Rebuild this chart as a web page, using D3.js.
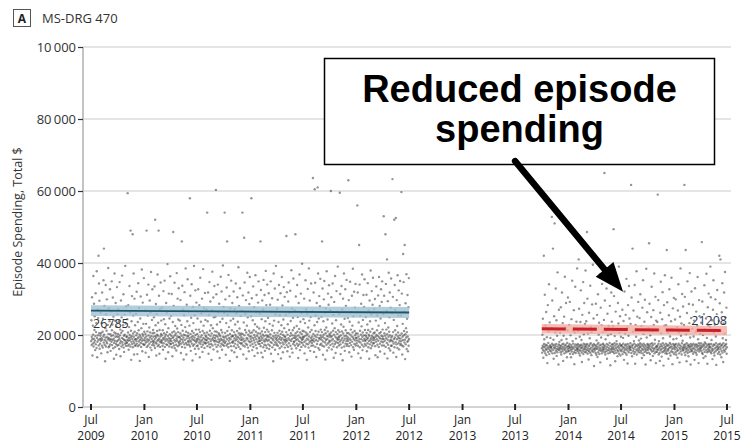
<!DOCTYPE html>
<html>
<head>
<meta charset="utf-8">
<script src="https://cdn.jsdelivr.net/npm/d3@7"></script>
<style>
  html, body { margin: 0; padding: 0; background: #fff; }
  svg { display: block; font-family: "Open Sans", "Noto Sans", sans-serif; }
</style>
</head>
<body>
<svg id="chart" width="742" height="444"></svg>
<script>
// ---- Data -----------------------------------------------------------------
// Episode spending per episode, grouped by month of admission, in $100 units.
const preMonths = ["2009-07","2009-08","2009-09","2009-10","2009-11","2009-12",
  "2010-01","2010-02","2010-03","2010-04","2010-05","2010-06","2010-07","2010-08","2010-09","2010-10","2010-11","2010-12",
  "2011-01","2011-02","2011-03","2011-04","2011-05","2011-06","2011-07","2011-08","2011-09","2011-10","2011-11","2011-12",
  "2012-01","2012-02","2012-03","2012-04","2012-05","2012-06"];

const preSpending = [
  [183,241,172,195,305,188,143,176,226,201,364,168,190,287,179,214,252,185,158,197,316,174,208,233,164,377,192,138,181,270,199,247,186,420,171,343,205,295,162,189],
  [176,198,262,184,205,149,191,233,170,318,187,209,165,245,196,352,179,440,201,281,173,186,127,219,193,339,168,257,182,212,299,177,194,152,228,188,386,203,166,274],
  [191,169,238,185,327,174,202,156,188,266,197,181,349,213,172,229,186,304,199,163,251,190,134,178,207,371,184,240,167,195,289,204,175,145,223,182,333,196,171,258],
  [185,203,271,172,194,238,161,188,347,199,177,215,141,183,296,206,168,249,192,365,180,211,173,227,189,313,165,198,153,186,256,201,176,392,184,232,170,279,195,178],
  [179,196,244,187,594,170,207,283,184,159,192,222,174,336,200,186,263,168,490,193,212,131,181,238,197,308,175,189,480,166,204,254,183,371,195,146,178,301,209,171,227,188],
  [188,171,259,199,183,320,176,205,147,190,236,169,344,194,213,182,275,173,201,128,187,246,196,307,178,167,219,191,382,184,155,203,290,175,198,231,186,358,172,209],
  [174,192,268,185,203,151,179,231,196,490,167,312,188,210,182,254,171,340,199,139,186,221,176,296,193,207,165,263,181,375,197,158,189,242,172,327,205,183,214,177],
  [195,182,249,171,206,335,188,164,520,197,227,179,286,193,143,176,258,201,211,184,368,169,198,234,187,490,173,309,190,148,214,181,272,167,196,346,185,203,240,178],
  [181,199,276,186,170,213,159,192,322,177,244,205,188,351,167,195,230,183,134,201,289,174,189,262,208,172,397,185,197,152,219,179,315,191,168,246,202,184,363,176],
  [189,175,253,198,183,314,166,207,141,192,236,178,486,195,281,171,210,186,345,163,199,225,182,266,204,173,157,190,372,185,218,196,301,169,208,243,181,330,194,177],
  [172,194,240,183,205,297,189,150,176,228,198,460,167,337,187,212,180,270,193,132,201,255,174,319,186,165,222,199,385,178,209,146,190,284,173,238,196,355,183,206],
  [198,180,265,173,191,226,185,580,168,309,203,156,182,248,194,341,176,211,188,129,197,278,170,233,206,186,392,174,193,255,162,183,324,200,147,215,179,290,188,169],
  [184,203,246,171,190,327,196,162,215,179,283,187,138,208,359,175,194,237,182,260,167,199,301,186,153,211,173,383,192,226,180,275,205,164,189,317,177,242,198,185],
  [177,195,271,186,207,540,169,238,191,318,180,148,201,256,174,347,189,212,166,293,197,183,227,175,131,204,268,188,376,171,219,193,304,160,185,249,199,336,182,210],
  [192,174,251,185,603,198,313,167,209,229,181,154,195,340,172,264,188,205,179,287,201,136,184,236,197,168,362,190,214,176,321,186,159,207,245,173,393,195,181,278],
  [186,170,262,193,540,178,206,299,182,145,196,233,171,332,189,460,211,175,256,199,166,367,184,222,192,308,177,128,203,274,188,240,169,351,195,157,213,180,289,198],
  [179,197,245,184,321,169,208,152,191,272,176,229,201,185,343,164,196,260,188,139,211,305,173,237,194,182,388,167,205,281,190,218,178,330,199,161,253,187,204,175],
  [194,178,267,187,540,203,310,171,146,190,235,182,470,199,346,168,214,259,185,176,297,207,134,192,226,173,373,189,249,165,201,318,183,155,212,286,196,361,180,206],
  [171,189,252,196,580,183,302,207,158,175,241,192,335,167,213,186,277,200,142,179,230,194,366,172,209,264,188,311,163,198,223,181,150,205,290,176,349,193,184,218],
  [190,175,260,183,204,460,169,325,196,151,187,244,210,178,296,192,138,201,271,166,353,185,220,197,173,311,182,156,208,238,189,378,171,199,283,186,164,215,340,194],
  [183,198,248,174,209,316,187,161,195,231,170,284,202,181,349,148,192,265,178,213,302,166,189,226,197,127,185,371,173,240,206,193,329,159,180,257,199,392,188,172],
  [176,193,273,185,206,298,170,147,198,236,181,339,189,212,163,255,194,177,316,203,135,186,227,168,361,191,209,282,179,152,200,243,174,333,187,219,196,306,165,184],
  [195,179,256,188,208,475,172,319,184,155,201,230,167,293,191,346,177,214,262,186,140,197,323,170,239,205,183,380,162,189,274,199,151,213,248,175,357,192,181,220],
  [182,198,268,171,192,480,205,307,186,163,196,225,176,339,209,188,250,170,136,199,289,183,217,174,368,194,158,207,237,180,315,191,167,261,203,186,398,178,212,195],
  [189,172,244,194,210,301,181,149,197,233,168,352,185,207,271,176,199,131,190,259,203,328,174,221,187,165,385,196,240,179,296,208,156,183,250,192,343,170,214,186],
  [178,196,266,185,636,171,203,318,190,153,182,227,605,198,345,167,211,254,186,139,194,289,175,236,201,610,183,371,164,209,246,192,308,159,188,280,173,356,199,215],
  [193,176,251,187,208,460,170,329,195,145,182,238,201,299,168,350,191,214,262,179,132,205,274,186,221,173,377,197,157,189,243,210,315,177,196,284,165,338,184,203],
  [181,199,269,172,194,600,207,305,185,160,197,232,176,343,189,212,256,168,137,201,292,183,219,175,364,195,150,208,241,180,322,191,166,265,203,187,390,178,213,194],
  [188,171,258,196,208,595,182,314,174,147,199,229,187,336,165,210,271,192,130,179,301,204,223,185,371,168,197,245,156,190,327,176,213,281,198,183,353,170,206,189],
  [175,194,247,184,630,205,297,169,152,190,237,178,348,201,186,215,263,172,140,196,309,181,226,207,384,166,193,252,188,159,320,175,211,276,199,185,342,171,204,192],
  [192,177,263,185,560,204,318,170,149,196,235,182,450,189,340,166,212,253,179,136,201,287,188,224,173,368,195,158,207,242,184,311,168,199,278,190,355,175,214,186],
  [183,199,250,171,195,312,206,155,188,229,177,344,192,214,166,268,201,183,134,197,296,174,238,209,186,379,163,191,257,180,322,198,170,217,284,187,359,194,176,205],
  [178,192,272,186,207,300,169,144,195,240,181,335,200,188,213,255,173,138,197,310,184,226,167,361,193,205,281,176,154,190,246,208,327,182,198,292,171,349,189,215],
  [196,180,258,189,530,171,309,205,148,184,233,198,480,167,342,191,215,267,178,410,202,135,187,294,173,221,195,373,163,209,249,182,318,199,157,186,276,170,357,193],
  [185,170,261,197,633,182,306,208,151,176,242,189,520,166,339,193,213,270,180,525,201,139,174,297,188,225,164,366,196,207,254,177,324,191,160,183,283,199,350,172],
  [190,176,254,183,597,204,315,171,146,195,231,186,425,168,347,199,211,265,179,450,187,133,202,288,174,219,193,369,161,208,245,181,311,196,155,184,277,170,358,189]
];

const postMonths = ["2013-10","2013-11","2013-12",
  "2014-01","2014-02","2014-03","2014-04","2014-05","2014-06","2014-07","2014-08","2014-09","2014-10","2014-11","2014-12",
  "2015-01","2015-02","2015-03","2015-04","2015-05","2015-06"];

const postSpending = [
  [163,151,201,170,245,158,137,166,420,175,188,155,312,168,149,226,161,173,264,144,159,194,171,122,165,283,153,178,210,162,341,147,168,235,157,172,192,166],
  [167,154,219,162,528,176,296,149,171,440,158,187,134,165,252,173,510,150,163,207,169,329,156,175,241,142,161,198,152,374,168,214,159,118,174,270,163,181],
  [158,171,206,164,152,277,169,146,186,161,318,174,155,233,166,128,176,198,160,251,149,170,362,163,221,157,173,289,152,189,167,138,178,213,161,304,155,168],
  [170,156,228,163,175,292,148,166,199,159,138,172,244,154,167,351,161,183,147,176,212,164,269,152,119,169,207,158,334,174,150,190,165,237,157,171,385,162],
  [161,175,211,154,167,410,149,273,172,159,195,143,168,236,156,324,173,163,186,151,125,165,256,170,218,157,347,147,176,202,162,289,153,168,231,174,160,379],
  [166,152,238,171,158,486,175,301,148,163,204,157,132,169,262,154,173,191,161,337,150,177,222,165,144,208,156,285,172,160,395,168,153,246,175,114,162,215],
  [157,172,218,163,150,287,169,145,185,161,256,174,139,166,313,152,178,201,159,234,147,171,368,164,124,156,276,173,193,160,227,149,342,167,155,208,176,162],
  [173,159,242,166,650,152,296,170,146,188,162,211,155,329,175,134,167,259,158,199,149,172,225,163,371,157,178,281,151,116,169,203,161,318,154,237,174,165],
  [160,174,225,153,168,494,162,308,149,177,197,157,127,171,265,164,345,151,183,175,214,159,141,167,289,155,232,170,390,148,163,206,176,252,158,143,172,195],
  [169,155,213,172,160,270,147,166,192,176,239,153,131,164,321,158,171,204,150,256,174,162,356,145,168,221,157,121,175,283,163,198,152,336,170,246,159,167],
  [164,177,231,158,617,150,304,170,141,165,440,173,209,155,268,161,183,148,176,339,167,120,153,228,172,195,160,377,146,169,251,157,216,174,292,163,152,185],
  [171,158,247,165,177,313,151,168,190,156,225,174,136,162,276,149,170,352,159,203,176,144,166,237,153,298,172,161,118,215,157,384,168,193,150,263,175,163],
  [158,173,219,166,151,455,170,287,162,147,199,175,130,159,250,168,334,154,177,211,164,142,172,269,156,228,161,371,149,176,187,165,306,153,122,240,169,160],
  [167,153,236,171,590,159,297,176,146,183,163,214,150,128,168,262,157,348,174,205,161,140,169,244,152,319,177,191,164,115,155,283,172,226,158,366,166,149],
  [162,176,227,154,169,436,148,291,173,160,206,157,134,171,255,163,327,150,178,196,166,143,174,238,155,359,168,217,161,119,152,274,175,188,164,303,147,170],
  [173,160,243,167,152,299,175,145,190,163,222,156,137,170,268,158,341,176,207,149,165,124,172,251,161,385,154,198,168,232,146,177,314,162,184,157,279,166],
  [159,172,228,165,617,151,306,174,144,168,436,161,202,155,127,177,261,163,349,150,170,214,158,141,173,286,166,233,153,372,169,193,162,118,175,247,157,321],
  [168,155,217,172,161,284,148,176,196,164,240,153,131,170,330,159,174,209,151,265,166,145,173,225,157,361,169,188,162,122,177,297,154,252,171,160,203,165],
  [163,177,234,156,170,458,150,293,167,147,200,174,136,160,258,171,338,153,179,216,165,141,176,246,158,370,168,192,152,120,173,277,161,228,155,315,175,166],
  [171,158,223,166,390,153,305,175,149,186,162,241,156,133,169,270,160,352,174,207,151,143,172,229,163,299,155,196,177,117,167,258,159,325,170,212,148,164],
  [160,174,239,153,420,167,288,176,146,410,162,211,170,138,156,263,173,344,151,191,165,125,177,232,158,318,169,204,154,375,172,249,161,186,175,276,148,166]
];

// Fitted trend for each period: endpoints and half-width of the confidence band ($)
const preFitDates = ["2009-07-01", "2012-07-01"];
const preFitValues = [26785, 26250];
const preFitBand = 1500;
const postFitDates = ["2013-10-01", "2015-07-01"];
const postFitValues = [21750, 21208];
const postFitBand = 1300;

// Axis ticks
const yTickValues = [0, 20000, 40000, 60000, 80000, 100000];
const yTickLabels = ["0", "20\u2009000", "40\u2009000", "60\u2009000", "80\u2009000", "10\u2009000"];
const xTickDates = ["2009-07","2010-01","2010-07","2011-01","2011-07","2012-01","2012-07",
  "2013-01","2013-07","2014-01","2014-07","2015-01","2015-07"];

// Callout
const calloutLines = ["Reduced episode", "spending"];
const arrowFrom = { date: "2013-07-01", value: 68300 };
const arrowTo = { date: "2014-07-08", value: 32000 };

// ---- Scales ---------------------------------------------------------------
const parseMonth = d3.timeParse("%Y-%m");
const parseDay = d3.timeParse("%Y-%m-%d");
const svg = d3.select("#chart");

const x = d3.scaleTime()
  .domain([parseMonth("2009-07"), parseMonth("2015-07")])
  .range([91, 727]);
const y = d3.scaleLinear().domain([0, 100000]).range([407, 47]);
const plotLeft = 83, plotRight = 731;

// ---- Grid and axes --------------------------------------------------------
svg.append("g").selectAll("line")
  .data(yTickValues.filter(v => v > 0))
  .join("line")
  .attr("x1", plotLeft).attr("x2", plotRight)
  .attr("y1", d => y(d)).attr("y2", d => y(d))
  .attr("stroke", "#dcdcdc").attr("stroke-width", 1.6);

const yAxis = svg.append("g")
  .attr("transform", `translate(${plotLeft},0)`)
  .call(d3.axisLeft(y).tickValues(yTickValues)
    .tickFormat((d, i) => yTickLabels[i]).tickSize(5).tickPadding(2));
yAxis.select(".domain").attr("stroke", "#c4c4c4").attr("stroke-width", 2)
  .attr("d", `M0,${y(0)}V${y(100000)}`);
yAxis.selectAll(".tick line").attr("stroke", "#333").attr("stroke-width", 1.2);
yAxis.selectAll(".tick text").attr("fill", "#333").style("font-size", "13px")
  .attr("dy", "0.36em").style("font-family", "'Open Sans', sans-serif");

// baseline
svg.append("line")
  .attr("x1", plotLeft).attr("x2", plotRight)
  .attr("y1", y(0)).attr("y2", y(0))
  .attr("stroke", "#c4c4c4").attr("stroke-width", 1.6);

// x ticks with two-line labels (month / year)
const xg = svg.append("g");
const xt = xg.selectAll("g").data(xTickDates.map(parseMonth)).join("g")
  .attr("transform", d => `translate(${x(d)},0)`);
xt.append("line").attr("y1", y(0) - 3).attr("y2", y(0) + 3)
  .attr("stroke", "#222").attr("stroke-width", 2);
xt.append("text").attr("text-anchor", "middle").attr("y", 423.5)
  .attr("fill", "#222").style("font-size", "12px").text(d3.timeFormat("%b"));
xt.append("text").attr("text-anchor", "middle").attr("y", 440)
  .attr("fill", "#222").style("font-size", "12px").text(d3.timeFormat("%Y"));

// y axis title
svg.append("text")
  .attr("transform", "translate(22,222) rotate(-90)")
  .attr("text-anchor", "middle").attr("fill", "#333")
  .style("font-size", "12.5px")
  .text("Episode Spending, Total $");

// panel label
svg.append("rect").attr("x", 13.5).attr("y", 9.5).attr("width", 17).attr("height", 17)
  .attr("fill", "#fff").attr("stroke", "#555").attr("stroke-width", 1);
svg.append("text").attr("x", 22).attr("y", 22.5).attr("text-anchor", "middle")
  .attr("fill", "#222").style("font-size", "12px").style("font-weight", "bold").text("A");
svg.append("text").attr("x", 42).attr("y", 23).attr("fill", "#333")
  .style("font-size", "13px").text("MS-DRG 470");

// ---- Episode points -------------------------------------------------------
function monthPoints(months, values) {
  return months.flatMap((m, i) => {
    const start = parseMonth(m), end = d3.timeMonth.offset(start, 1);
    const vals = values[i];
    return vals.map((v, j) => ({
      date: new Date(+start + (end - start) * (j + 0.5) / vals.length),
      value: v * 100
    }));
  });
}
const points = monthPoints(preMonths, preSpending).concat(monthPoints(postMonths, postSpending));

svg.append("g").selectAll("circle").data(points).join("circle")
  .attr("cx", d => x(d.date)).attr("cy", d => y(d.value))
  .attr("r", 1.2)
  .attr("fill", "#3a3a3a").attr("fill-opacity", 0.55);

// ---- Fitted trends --------------------------------------------------------
function drawFit(dates, values, band, bandColor, lineColor, dash, width) {
  const pts = dates.map((d, i) => ({ date: parseDay(d), value: values[i] }));
  svg.append("path").datum(pts)
    .attr("d", d3.area().x(d => x(d.date))
      .y0(d => y(d.value - band)).y1(d => y(d.value + band)))
    .attr("fill", bandColor).attr("fill-opacity", 0.8);
  svg.append("path").datum(pts)
    .attr("d", d3.line().x(d => x(d.date)).y(d => y(d.value)))
    .attr("fill", "none").attr("stroke", lineColor)
    .attr("stroke-width", width).attr("stroke-dasharray", dash);
  return pts;
}
const prePts = drawFit(preFitDates, preFitValues, preFitBand, "#9fc0d2", "#21566a", null, 1.8);
const postPts = drawFit(postFitDates, postFitValues, postFitBand, "#f2ada0", "#c8202b", "24,7", 3);

svg.append("text").attr("x", x(prePts[0].date) + 2).attr("y", y(preFitValues[0]) + 17)
  .attr("fill", "#333").style("font-size", "12.5px").text(preFitValues[0]);
svg.append("text").attr("x", x(postPts[1].date)).attr("y", y(postFitValues[1]) - 6)
  .attr("text-anchor", "end").attr("fill", "#2a3550")
  .style("font-size", "12.5px").text(postFitValues[1]);

// ---- Callout --------------------------------------------------------------
const callout = svg.append("g");
callout.append("rect").attr("x", 324.5).attr("y", 58.5).attr("width", 390).attr("height", 106)
  .attr("fill", "#fff").attr("stroke", "#000").attr("stroke-width", 1.5);
callout.selectAll("text").data(calloutLines).join("text")
  .attr("x", 519.5).attr("y", (d, i) => 102 + i * 40)
  .attr("text-anchor", "middle").attr("fill", "#000")
  .style("font-family", "'Liberation Sans', Arial, sans-serif")
  .style("font-size", "38px").style("font-weight", "bold")
  .text(d => d);

const ax0 = x(parseDay(arrowFrom.date)), ay0 = y(arrowFrom.value);
const ax1 = x(parseDay(arrowTo.date)), ay1 = y(arrowTo.value);
const len = Math.hypot(ax1 - ax0, ay1 - ay0);
const ux = (ax1 - ax0) / len, uy = (ay1 - ay0) / len;
const headLen = 29, headHalf = 11.5;
const bx = ax1 - ux * headLen, by = ay1 - uy * headLen;
callout.append("line")
  .attr("x1", ax0).attr("y1", ay0).attr("x2", bx + ux * 2).attr("y2", by + uy * 2)
  .attr("stroke", "#000").attr("stroke-width", 6.5).attr("stroke-linecap", "round");
callout.append("path")
  .attr("d", `M${ax1},${ay1}L${bx - uy * headHalf},${by + ux * headHalf}L${bx + uy * headHalf},${by - ux * headHalf}Z`)
  .attr("fill", "#000");
</script>
</body>
</html>
